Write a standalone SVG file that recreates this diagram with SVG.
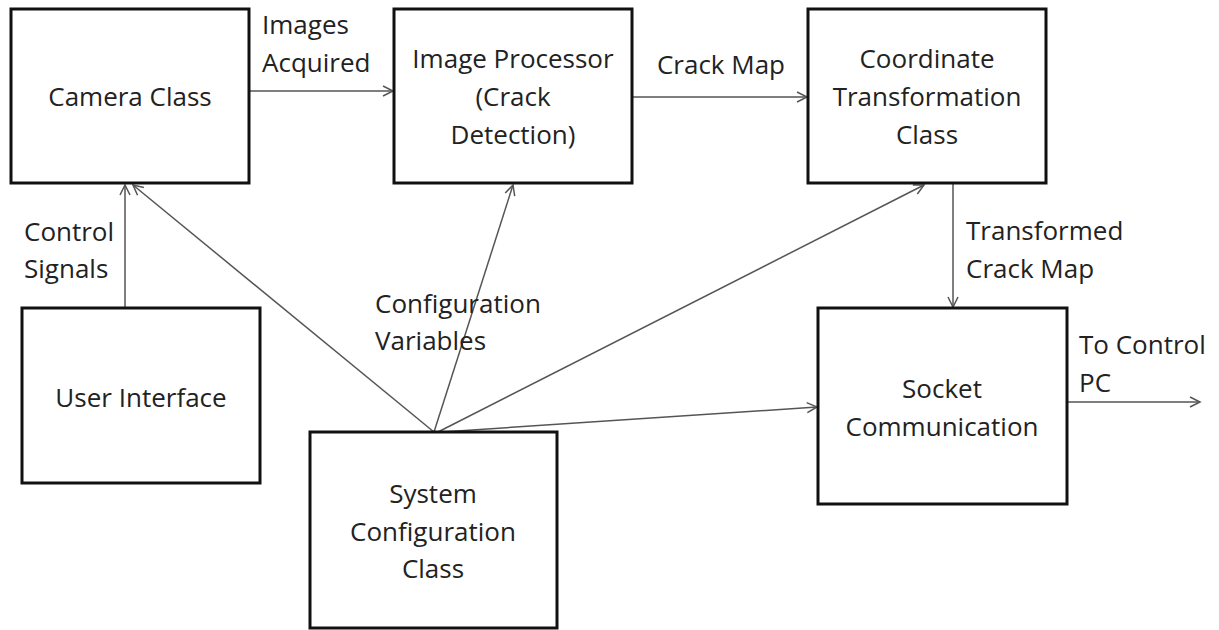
<svg xmlns="http://www.w3.org/2000/svg" width="1219" height="630" viewBox="0 0 1219 630">
<style>
.box{fill:#fff;stroke:#111;stroke-width:3}
.t{font-family:"Open Sans","Noto Sans",sans-serif;font-size:26px;fill:#222}
.c{text-anchor:middle}
.ln{fill:none;stroke:#555;stroke-width:1.5;marker-end:url(#ah)}
</style>
<defs>
<marker id="ah" markerUnits="userSpaceOnUse" markerWidth="14" markerHeight="14" refX="11" refY="6" orient="auto">
<path d="M1,1 L11,6 L1,11" fill="none" stroke="#555" stroke-width="1.5"/>
</marker>
</defs>
<rect width="1219" height="630" fill="#fff"/>
<g id="connectors">
<line class="ln" x1="249" y1="91" x2="393" y2="91"/>
<line class="ln" x1="632" y1="97" x2="807" y2="97"/>
<line class="ln" x1="953" y1="183" x2="953" y2="307"/>
<line class="ln" x1="1067" y1="402" x2="1200" y2="402"/>
<line class="ln" x1="125" y1="308" x2="125" y2="185"/>
<line class="ln" x1="434" y1="432" x2="133" y2="185"/>
<line class="ln" x1="434" y1="432" x2="513" y2="185"/>
<line class="ln" x1="438" y1="432" x2="924" y2="185"/>
<line class="ln" x1="442" y1="432" x2="817" y2="407"/>
<text class="t" x="262" y="34">Images</text>
<text class="t" x="262" y="72">Acquired</text>
<text class="t c" x="721" y="74">Crack Map</text>
<text class="t" x="966" y="240">Transformed</text>
<text class="t" x="966" y="278">Crack Map</text>
<text class="t" x="1079" y="354">To Control</text>
<text class="t" x="1079" y="392">PC</text>
<text class="t" x="24" y="241">Control</text>
<text class="t" x="24" y="278">Signals</text>
<text class="t" x="375" y="313">Configuration</text>
<text class="t" x="375" y="350">Variables</text>
</g>
<g id="camera">
<rect class="box" x="11" y="9" width="238" height="174"/>
<text class="t c" x="130" y="106">Camera Class</text>
</g>
<g id="imageProcessor">
<rect class="box" x="394" y="9" width="238" height="174"/>
<text class="t c" x="513" y="68">Image Processor</text>
<text class="t c" x="513" y="106">(Crack</text>
<text class="t c" x="513" y="144">Detection)</text>
</g>
<g id="coordinate">
<rect class="box" x="808" y="9" width="238" height="174"/>
<text class="t c" x="927" y="68">Coordinate</text>
<text class="t c" x="927" y="106">Transformation</text>
<text class="t c" x="927" y="144">Class</text>
</g>
<g id="userInterface">
<rect class="box" x="22" y="308" width="238" height="175"/>
<text class="t c" x="141" y="407">User Interface</text>
</g>
<g id="systemConfig">
<rect class="box" x="310" y="432" width="247" height="196"/>
<text class="t c" x="433" y="503">System</text>
<text class="t c" x="433" y="541">Configuration</text>
<text class="t c" x="433" y="578">Class</text>
</g>
<g id="socket">
<rect class="box" x="818" y="308" width="249" height="196"/>
<text class="t c" x="942" y="398">Socket</text>
<text class="t c" x="942" y="436">Communication</text>
</g>
</svg>
